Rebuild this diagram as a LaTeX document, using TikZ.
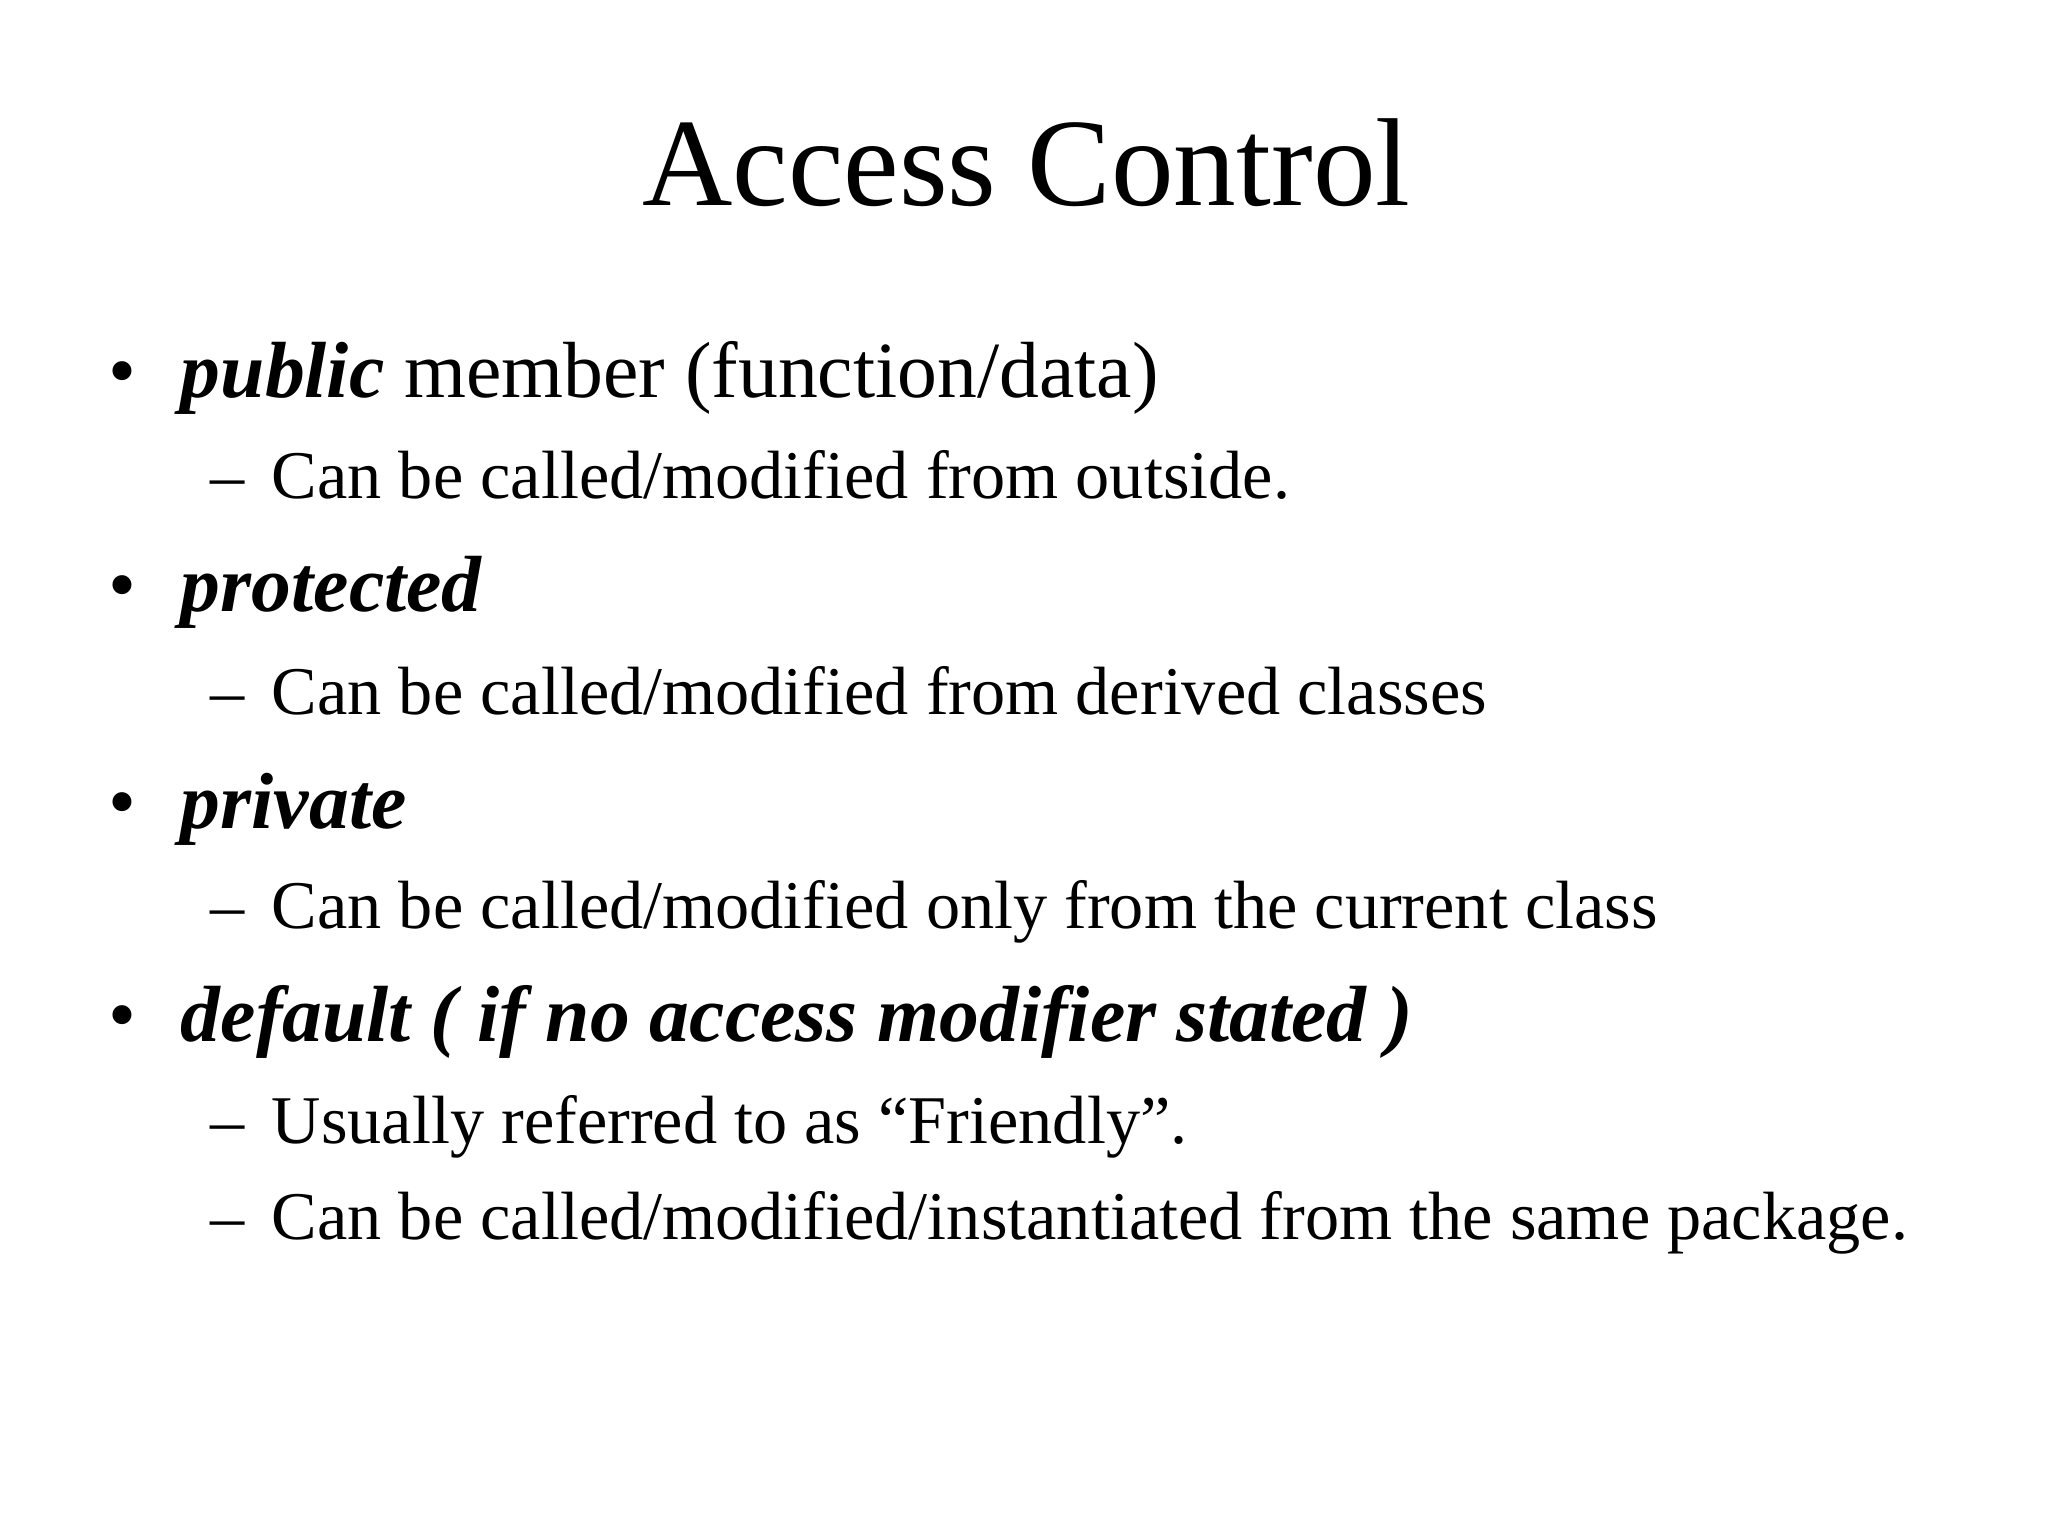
\documentclass[tikz,border=0pt]{standalone}
\usepackage{fontspec}
\setmainfont{Liberation Serif}
\begin{document}
\begin{tikzpicture}[x=1pt,y=1pt,
  every node/.style={inner sep=0pt,outer sep=0pt,text=black},
  titletext/.style={anchor=base,font=\fontsize{44}{52}\selectfont},
  bul/.style={anchor=base,font=\fontsize{28}{34}\selectfont},
  lvlone/.style={anchor=base west,font=\fontsize{28}{34}\selectfont},
  dsh/.style={anchor=base west,font=\fontsize{24}{29}\selectfont},
  lvltwo/.style={anchor=base west,font=\fontsize{24}{29}\selectfont}]
\fill[white] (0,0) rectangle (720,-540);
\useasboundingbox (0,0) rectangle (720,-540);
\node[titletext] (title) at (360.8,-72.2) {Access Control};
% level 1
\node[bul] (b1) at (43.2,-139.9) {•};
\node[lvlone] (t1) at (63.6,-139.9) {\textbf{\textit{public}} member (function/data)};
\node[dsh] (d1) at (74.0,-175.3) {–};
\node[lvltwo] (s1) at (95.6,-175.3) {Can be called/modified from outside.};
\node[bul] (b2) at (43.2,-215.0) {•};
\node[lvlone] (t2) at (63.6,-215.0) {\textbf{\textit{protected}}};
\node[dsh] (d2) at (74.0,-251.2) {–};
\node[lvltwo] (s2) at (95.6,-251.2) {Can be called/modified from derived classes};
\node[bul] (b3) at (43.2,-291.3) {•};
\node[lvlone] (t3) at (63.6,-291.3) {\textbf{\textit{private}}};
\node[dsh] (d3) at (74.0,-326.6) {–};
\node[lvltwo] (s3) at (95.6,-326.6) {Can be called/modified only from the current class};
\node[bul] (b4) at (43.2,-366.2) {•};
\node[lvlone] (t4) at (63.6,-366.2) {\textbf{\textit{default ( if no access modifier stated )}}};
\node[dsh] (d4) at (74.0,-401.9) {–};
\node[lvltwo] (s4) at (95.6,-401.9) {Usually referred to as “Friendly”.};
\node[dsh] (d5) at (74.0,-435.6) {–};
\node[lvltwo] (s5) at (95.6,-435.6) {Can be called/modified/instantiated from the same package.};
\end{tikzpicture}
\end{document}
